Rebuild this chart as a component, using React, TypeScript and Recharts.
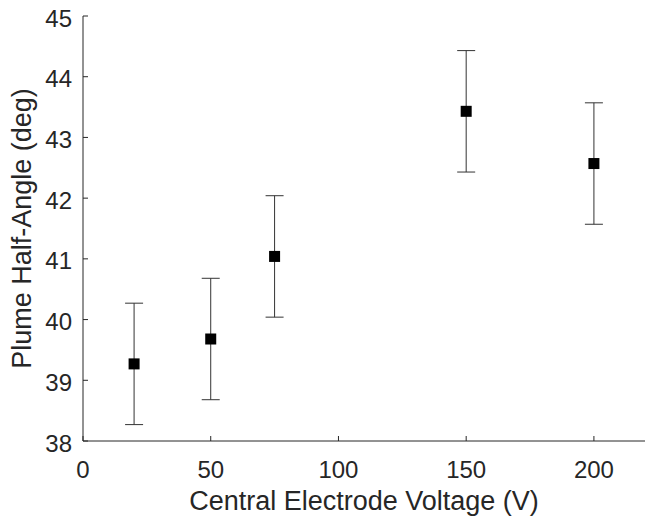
import { ScatterChart, Scatter, XAxis, YAxis, ErrorBar } from "recharts";

const voltages = [20, 50, 75, 150, 200];
const halfAngles = [39.27, 39.68, 41.04, 43.43, 42.57];
const angleErrors = [1, 1, 1, 1, 1];

const xTicks = [0, 50, 100, 150, 200];
const yTicks = [38, 39, 40, 41, 42, 43, 44, 45];

const data = voltages.map((v, i) => ({ v, angle: halfAngles[i], err: angleErrors[i] }));

const AXIS = "#262626";
const FONT = "'Liberation Sans', Arial, sans-serif";

const BottomTick = ({ x, y, payload }: any) => (
  <g>
    <line x1={x} x2={x} y1={y} y2={y - 5} stroke={AXIS} />
    <text x={x} y={y + 28} textAnchor="middle" dominantBaseline="central" fill={AXIS} fontSize={24} fontFamily={FONT}>
      {payload.value}
    </text>
  </g>
);

const LeftTick = ({ x, y, payload }: any) => (
  <g>
    <line x1={x} x2={x + 5} y1={y} y2={y} stroke={AXIS} />
    <text x={x - 11} y={y + 2} textAnchor="end" dominantBaseline="central" fill={AXIS} fontSize={24} fontFamily={FONT}>
      {payload.value}
    </text>
  </g>
);

const TopTick = ({ x, y }: any) => <line x1={x} x2={x} y1={y} y2={y + 5} stroke={AXIS} />;
const RightTick = ({ x, y }: any) => <line x1={x} x2={x - 5} y1={y} y2={y} stroke={AXIS} />;

const SquareMarker = ({ cx, cy }: any) => (
  <rect x={cx - 5.5} y={cy - 5.5} width={11} height={11} fill="#000" />
);

export default function App() {
  return (
    <div style={{ position: "absolute", left: 0, top: 0, background: "#fff" }}>
      <ScatterChart width={646} height={520} margin={{ top: 16, right: 1, bottom: 0, left: 0 }}>
        <XAxis
          xAxisId="bottom"
          dataKey="v"
          type="number"
          domain={[0, 220]}
          ticks={xTicks}
          height={79}
          stroke={AXIS}
          tickLine={false}
          tickSize={0}
          tickMargin={0}
          tick={<BottomTick />}
          label={{
            value: "Central Electrode Voltage (V)",
            position: "insideBottom",
            offset: 10,
            fill: AXIS,
            fontSize: 27,
            fontFamily: FONT,
          }}
        />
        <XAxis
          xAxisId="top"
          orientation="top"
          dataKey="v"
          type="number"
          domain={[0, 220]}
          ticks={xTicks}
          height={0}
          stroke={AXIS}
          tickLine={false}
          tickSize={0}
          tickMargin={0}
          tick={<TopTick />}
        />
        <YAxis
          yAxisId="left"
          dataKey="angle"
          type="number"
          domain={[38, 45]}
          ticks={yTicks}
          width={83}
          stroke={AXIS}
          tickLine={false}
          tickSize={0}
          tickMargin={0}
          tick={<LeftTick />}
          label={{
            value: "Plume Half-Angle (deg)",
            content: ({ viewBox }: any) => (
              <text
                x={22}
                y={viewBox.y + viewBox.height / 2}
                transform={`rotate(-90, 22, ${viewBox.y + viewBox.height / 2})`}
                textAnchor="middle"
                dominantBaseline="central"
                fill={AXIS}
                fontSize={27}
                fontFamily={FONT}
              >
                Plume Half-Angle (deg)
              </text>
            ),
          }}
        />
        <YAxis
          yAxisId="right"
          orientation="right"
          dataKey="angle"
          type="number"
          domain={[38, 45]}
          ticks={yTicks}
          width={0}
          stroke={AXIS}
          tickLine={false}
          tickSize={0}
          tickMargin={0}
          tick={<RightTick />}
        />
        <Scatter
          data={data}
          xAxisId="bottom"
          yAxisId="left"
          shape={<SquareMarker />}
          isAnimationActive={false}
        >
          <ErrorBar dataKey="err" direction="y" width={9} stroke="#333" strokeWidth={1} />
        </Scatter>
      </ScatterChart>
    </div>
  );
}
